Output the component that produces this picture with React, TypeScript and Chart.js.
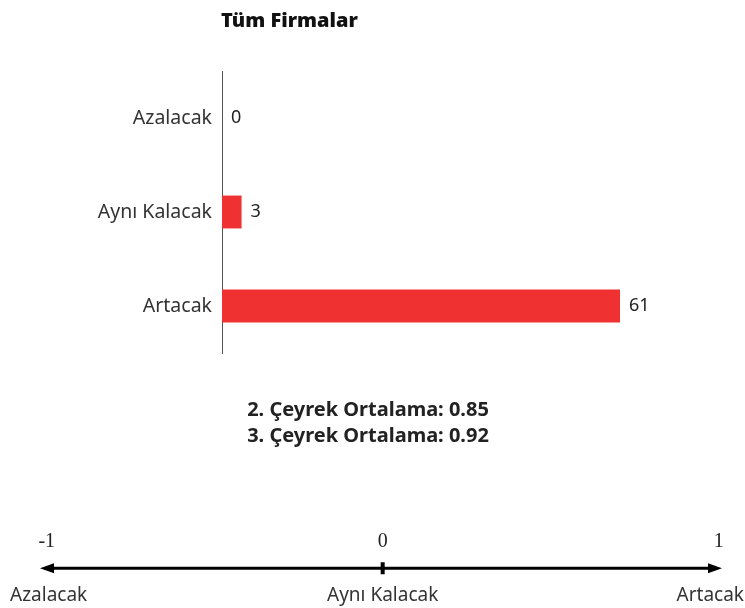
import React, { useEffect, useRef } from 'react';
import { Chart, registerables } from 'chart.js';

Chart.register(...registerables);

// ---- data ----
const categories = ['Azalacak', 'Aynı Kalacak', 'Artacak'];
const counts = [0, 3, 61];
const chartTitle = 'Tüm Firmalar';
const averageLines = ['2. Çeyrek Ortalama: 0.85', '3. Çeyrek Ortalama: 0.92'];
const scaleTicks = [-1, 0, 1];
const scaleTickNames = ['Azalacak', 'Aynı Kalacak', 'Artacak'];

// ---- styles ----
const BAR_COLOR = '#EF3131';
const SANS = '"Noto Sans", "Open Sans", sans-serif';
const SERIF = '"Liberation Serif", "DejaVu Serif", serif';
const W = 745;
const TOP_H = 480;
const BOTTOM_H = 128;

export default function App() {
  const topRef = useRef<HTMLCanvasElement | null>(null);
  const bottomRef = useRef<HTMLCanvasElement | null>(null);

  useEffect(() => {
    if (!topRef.current || !bottomRef.current) return;

    const barLabels = {
      id: 'barLabels',
      afterDatasetsDraw(chart: any) {
        const ctx = chart.ctx;
        const meta = chart.getDatasetMeta(0);
        ctx.save();
        ctx.font = `18px ${SANS}`;
        ctx.fillStyle = '#222';
        ctx.textAlign = 'left';
        ctx.textBaseline = 'middle';
        meta.data.forEach((bar: any, i: number) => {
          ctx.fillText(String(counts[i]), bar.x + 9, bar.y);
        });
        ctx.restore();
      },
      afterDraw(chart: any) {
        const ctx = chart.ctx;
        ctx.save();
        ctx.fillStyle = '#111';
        ctx.font = `900 20px ${SANS}`;
        ctx.textAlign = 'left';
        ctx.textBaseline = 'alphabetic';
        ctx.fillText(chartTitle, chart.chartArea.left - 1, 27);
        ctx.font = `bold 20px ${SANS}`;
        ctx.fillStyle = '#222';
        ctx.textAlign = 'center';
        averageLines.forEach((t, i) => {
          ctx.fillText(t, 368, 416 + i * 26);
        });
        ctx.restore();
      },
    };

    const top = new Chart(topRef.current, {
      type: 'bar',
      data: {
        labels: categories,
        datasets: [
          {
            data: counts,
            backgroundColor: BAR_COLOR,
            borderWidth: 0,
            categoryPercentage: 1,
            barPercentage: 0.35,
          },
        ],
      },
      options: {
        indexAxis: 'y',
        responsive: false,
        animation: false,
        devicePixelRatio: 1,
        layout: { padding: { top: 71, bottom: TOP_H - 353, left: 0, right: 125 } },
        plugins: { legend: { display: false }, tooltip: { enabled: false }, title: { display: false } },
        scales: {
          x: { display: false, min: 0, max: 61 },
          y: {
            grid: { display: false, drawTicks: false },
            border: { display: true, color: '#555', width: 1 },
            ticks: { color: '#333', font: { family: SANS, size: 19.5 }, padding: 10 },
            afterFit(scale: any) {
              scale.width = 222;
            },
          },
        },
      },
      plugins: [barLabels],
    } as any);

    const numberLine = {
      id: 'numberLine',
      afterDraw(chart: any) {
        const ctx = chart.ctx;
        const xs = chart.scales.x;
        const ys = chart.scales.y;
        const y0 = ys.getPixelForValue(0);
        const left = chart.chartArea.left;
        const right = chart.chartArea.right;
        const head = 14;
        const half = 5;
        ctx.save();
        ctx.strokeStyle = '#000';
        ctx.fillStyle = '#000';
        ctx.lineWidth = 3;
        ctx.beginPath();
        ctx.moveTo(left + head - 2, y0);
        ctx.lineTo(right - head + 2, y0);
        ctx.stroke();
        ctx.beginPath();
        ctx.moveTo(left, y0);
        ctx.lineTo(left + head, y0 - half);
        ctx.lineTo(left + head, y0 + half);
        ctx.closePath();
        ctx.fill();
        ctx.beginPath();
        ctx.moveTo(right, y0);
        ctx.lineTo(right - head, y0 - half);
        ctx.lineTo(right - head, y0 + half);
        ctx.closePath();
        ctx.fill();
        const x0 = xs.getPixelForValue(0);
        ctx.fillRect(x0 - 2, y0 - 6, 4, 12);

        ctx.font = `19px ${SANS}`;
        ctx.fillStyle = '#333';
        ctx.textBaseline = 'alphabetic';
        ctx.textAlign = 'left';
        scaleTicks.forEach((v, i) => {
          const name = scaleTickNames[i];
          const w = ctx.measureText(name).width;
          let x = xs.getPixelForValue(v) - w / 2;
          x = Math.max(10, Math.min(chart.width - w - 1, x));
          ctx.fillText(name, x, chart.height - 7);
        });
        ctx.restore();
      },
    };

    const bottom = new Chart(bottomRef.current, {
      type: 'scatter',
      data: {
        datasets: [
          {
            data: scaleTicks.map((v) => ({ x: v, y: 0 })),
            pointRadius: 0,
            showLine: false,
          },
        ],
      },
      options: {
        responsive: false,
        animation: false,
        devicePixelRatio: 1,
        layout: { padding: { top: 50, bottom: 27, left: 40, right: 23 } },
        plugins: { legend: { display: false }, tooltip: { enabled: false } },
        scales: {
          x: {
            type: 'linear',
            position: 'top',
            min: -1.02,
            max: 1.01,
            grid: { display: false, drawTicks: false },
            border: { display: false },
            ticks: {
              color: '#222',
              font: { family: SERIF, size: 20 },
              padding: 2,
              callback: (v: any) => String(v),
            },
            afterBuildTicks(scale: any) {
              scale.ticks = scaleTicks.map((v) => ({ value: v }));
            },
          },
          y: { display: false, min: -1, max: 1 },
        },
      },
      plugins: [numberLine],
    } as any);

    return () => {
      top.destroy();
      bottom.destroy();
    };
  }, []);

  return (
    <div style={{ position: 'absolute', left: 0, top: 0, width: W, height: TOP_H + BOTTOM_H, background: '#fff' }}>
      <canvas
        ref={topRef}
        width={W}
        height={TOP_H}
        style={{ position: 'absolute', left: 0, top: 0, width: W, height: TOP_H, display: 'block' }}
      />
      <canvas
        ref={bottomRef}
        width={W}
        height={BOTTOM_H}
        style={{ position: 'absolute', left: 0, top: TOP_H, width: W, height: BOTTOM_H, display: 'block' }}
      />
    </div>
  );
}
